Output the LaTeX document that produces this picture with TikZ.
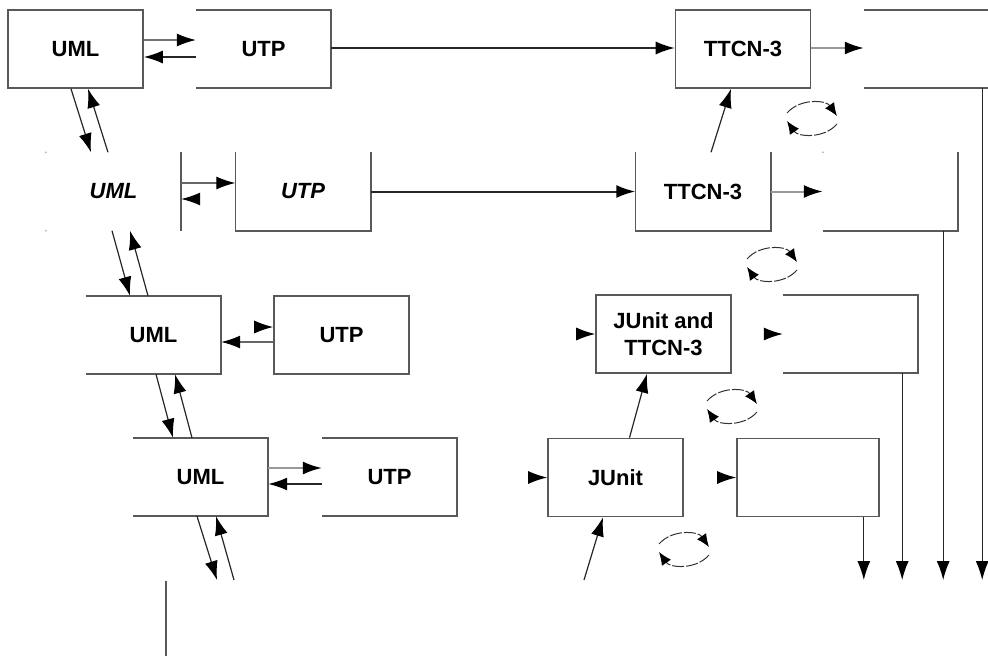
\documentclass[tikz,border=0pt]{standalone}
\usepackage{fontspec}
\setmainfont{Liberation Sans}
\usetikzlibrary{arrows.meta,positioning,calc}

\begin{document}
\begin{tikzpicture}[
  x=1pt,y=-1pt,
  blk/.style={minimum width=135pt,minimum height=78pt,inner sep=0pt,align=center,
    font=\bfseries\fontsize{22}{27}\selectfont},
  box/.style={blk,draw=black!65,line width=1.6pt},
  rim/.style={draw=black!65,line width=1.6pt},
  arr/.style={draw=black!85,line width=1.2pt,-{Latex[length=19pt,width=13pt,color=black]}},
  garr/.style={arr,draw=black!40,line width=2pt},
  tip/.style={draw=black!85,line width=1.2pt,-{Latex[length=19pt,width=13pt,color=black]}},
  cyc/.style={draw=black!80,line width=1pt,dash pattern=on 12pt off 2pt,
    -{Latex[length=13pt,width=11pt,color=black]}},
  dot/.style={fill=black!30}
]
\useasboundingbox (0,0) rectangle (988,656);
\clip (0,0) rectangle (988,656);
\coordinate (bot) at (0,580);

% ---- row 1 ----
\node[box] (uml1) at (75.5,49) {UML};
\node[blk] (utp1) at (263.5,49) {UTP};
\node[box] (ttcn1) at (743,49) {TTCN-3};
\node[blk] (out1) at (931.5,49) {};
\draw[rim] (utp1.north west) -- (utp1.north east) -- (utp1.south east) -- (utp1.south west);
\draw[rim] (out1.north west) -- (out1.north east);
\draw[rim] (out1.south west) -- (out1.south east);

\draw[arr,draw=black!55] ([yshift=9pt]uml1.east) -- ([yshift=9pt]utp1.west);
\draw[arr,line width=1.5pt] ([yshift=-8pt]utp1.west) -- ([yshift=-8pt]uml1.east);
\draw[arr,line width=1.4pt] ([yshift=1pt]utp1.east) -- ([yshift=1pt]ttcn1.west);
\draw[garr] ([yshift=1pt]ttcn1.east) -- ([yshift=1pt]out1.west);
\coordinate (d1) at ([xshift=-17pt]out1.south east);
\draw[arr] (d1) -- (d1 |- bot);

% ---- row 2 ----
\node[blk,font=\bfseries\itshape\fontsize{22}{27}\selectfont] (uml2) at (113.5,191.5) {UML};
\node[blk,font=\bfseries\itshape\fontsize{22}{27}\selectfont] (utp2) at (303,191.5) {UTP};
\node[blk] (ttcn2) at (703,191.5) {TTCN-3};
\node[blk] (out2) at (890.5,191.5) {};
\fill[dot] (uml2.north west) circle (1pt);
\fill[dot] (uml2.south west) circle (1pt);
\fill[dot] (out2.north west) circle (1pt);
\draw[rim] (uml2.north east) -- (uml2.south east);
\draw[rim] (utp2.north west) -- (utp2.south west) -- (utp2.south east) -- (utp2.north east);
\draw[rim] (ttcn2.north west) -- (ttcn2.south west) -- (ttcn2.south east) -- (ttcn2.north east);
\draw[rim] (out2.south west) -- (out2.south east) -- (out2.north east);

\draw[arr,draw=black!60] ([yshift=8.5pt]uml2.east) -- ([yshift=8.5pt]utp2.west);
\draw[tip] ([xshift=18pt,yshift=-7.5pt]uml2.east) -- ([yshift=-7.5pt]uml2.east);
\draw[arr,line width=2pt] (utp2.east) -- (ttcn2.west);
\draw[garr] (ttcn2.east) -- (out2.west);
\coordinate (d2) at ([xshift=-15pt]out2.south east);
\draw[arr] (d2) -- (d2 |- bot);
\draw[arr] ([xshift=8pt]ttcn2.north) -- ([xshift=-12pt]ttcn1.south);

% ---- row 3 ----
\node[blk] (uml3) at (153.5,335) {UML};
\node[box] (utp3) at (341.5,335) {UTP};
\node[box] (ju3) at (663.5,334) {JUnit and\\TTCN-3};
\node[blk] (out3) at (850.5,334) {};
\draw[rim] (uml3.north west) -- (uml3.north east) -- (uml3.south east) -- (uml3.south west);
\draw[rim] (out3.north west) -- (out3.north east) -- (out3.south east) -- (out3.south west);

\draw[arr,draw=black!60] ([yshift=-7pt]utp3.west) -- ([yshift=-7pt]uml3.east);
\draw[tip] ([xshift=-18pt,yshift=8pt]utp3.west) -- ([yshift=8pt]utp3.west);
\draw[tip] ([xshift=-18pt]ju3.west) -- (ju3.west);
\draw[tip] ([xshift=-18pt]out3.west) -- (out3.west);
\coordinate (d3) at ([xshift=-16pt]out3.south east);
\draw[arr] (d3) -- (d3 |- bot);

% ---- row 4 ----
\node[blk] (uml4) at (200.5,477) {UML};
\node[blk] (utp4) at (389.5,477) {UTP};
\node[box] (ju4) at (615.5,477.5) {JUnit};
\node[box,minimum width=142pt] (out4) at (808,477.5) {};
\draw[rim] (uml4.north west) -- (uml4.north east) -- (uml4.south east) -- (uml4.south west);
\draw[rim] (utp4.north west) -- (utp4.north east) -- (utp4.south east) -- (utp4.south west);

\draw[garr,line width=1.8pt] ([yshift=9pt]uml4.east) -- ([yshift=9pt]utp4.west);
\draw[arr,line width=1.6pt] ([yshift=-7pt]utp4.west) -- ([yshift=-7pt]uml4.east);
\draw[tip] ([xshift=-18pt]ju4.west) -- (ju4.west);
\draw[tip] ([xshift=-18pt]out4.west) -- (out4.west);
\coordinate (d4) at ([xshift=-16pt]out4.south east);
\draw[arr] (d4) -- (d4 |- bot);
\draw[arr] ([xshift=14pt]ju4.north) -- ([xshift=-16.5pt]ju3.south);
\coordinate (jin) at (584,580);
\draw[arr] (jin) -- ([xshift=-12.5pt]ju4.south);

% ---- UML chain on the left ----
\draw[arr] ([xshift=-4.5pt]uml1.south) -- ([xshift=-22.5pt]uml2.north);
\draw[arr] ([xshift=-5.5pt]uml2.north) -- ([xshift=12.5pt]uml1.south);
\draw[arr] ([xshift=-1.5pt]uml2.south) -- ([xshift=-23.5pt]uml3.north);
\draw[arr] ([xshift=-5.5pt]uml3.north) -- ([xshift=16.5pt]uml2.south);
\draw[arr] ([xshift=2.5pt]uml3.south) -- ([xshift=-27.5pt]uml4.north);
\draw[arr] ([xshift=-8.5pt]uml4.north) -- ([xshift=21.5pt]uml3.south);
\coordinate (ld) at (217,580);
\coordinate (lu) at (234,580);
\draw[arr] ([xshift=-3.5pt]uml4.south) -- (ld);
\draw[arr] (lu) -- ([xshift=15.5pt]uml4.south);
\coordinate (sa) at (166,581);
\coordinate (sb) at (166,656);
\draw[rim] (sa) -- (sb);

% ---- cycles ----
\coordinate (c1) at (812,118);
\coordinate (c2) at (772,264);
\coordinate (c3) at (732,406);
\coordinate (c4) at (684,549);
\draw[cyc] ($(c1)+(-25,-5)$) .. controls ($(c1)+(-12,-20)$) and ($(c1)+(14,-18)$) .. ($(c1)+(25,-2)$);
\draw[cyc] ($(c1)+(25,6)$) .. controls ($(c1)+(12,21)$) and ($(c1)+(-14,19)$) .. ($(c1)+(-25,3)$);
\draw[cyc] ($(c2)+(-25,-5)$) .. controls ($(c2)+(-12,-20)$) and ($(c2)+(14,-18)$) .. ($(c2)+(25,-2)$);
\draw[cyc] ($(c2)+(25,6)$) .. controls ($(c2)+(12,21)$) and ($(c2)+(-14,19)$) .. ($(c2)+(-25,3)$);
\draw[cyc] ($(c3)+(-25,-5)$) .. controls ($(c3)+(-12,-20)$) and ($(c3)+(14,-18)$) .. ($(c3)+(25,-2)$);
\draw[cyc] ($(c3)+(25,6)$) .. controls ($(c3)+(12,21)$) and ($(c3)+(-14,19)$) .. ($(c3)+(-25,3)$);
\draw[cyc] ($(c4)+(-25,-5)$) .. controls ($(c4)+(-12,-20)$) and ($(c4)+(14,-18)$) .. ($(c4)+(25,-2)$);
\draw[cyc] ($(c4)+(25,6)$) .. controls ($(c4)+(12,21)$) and ($(c4)+(-14,19)$) .. ($(c4)+(-25,3)$);

\end{tikzpicture}
\end{document}
